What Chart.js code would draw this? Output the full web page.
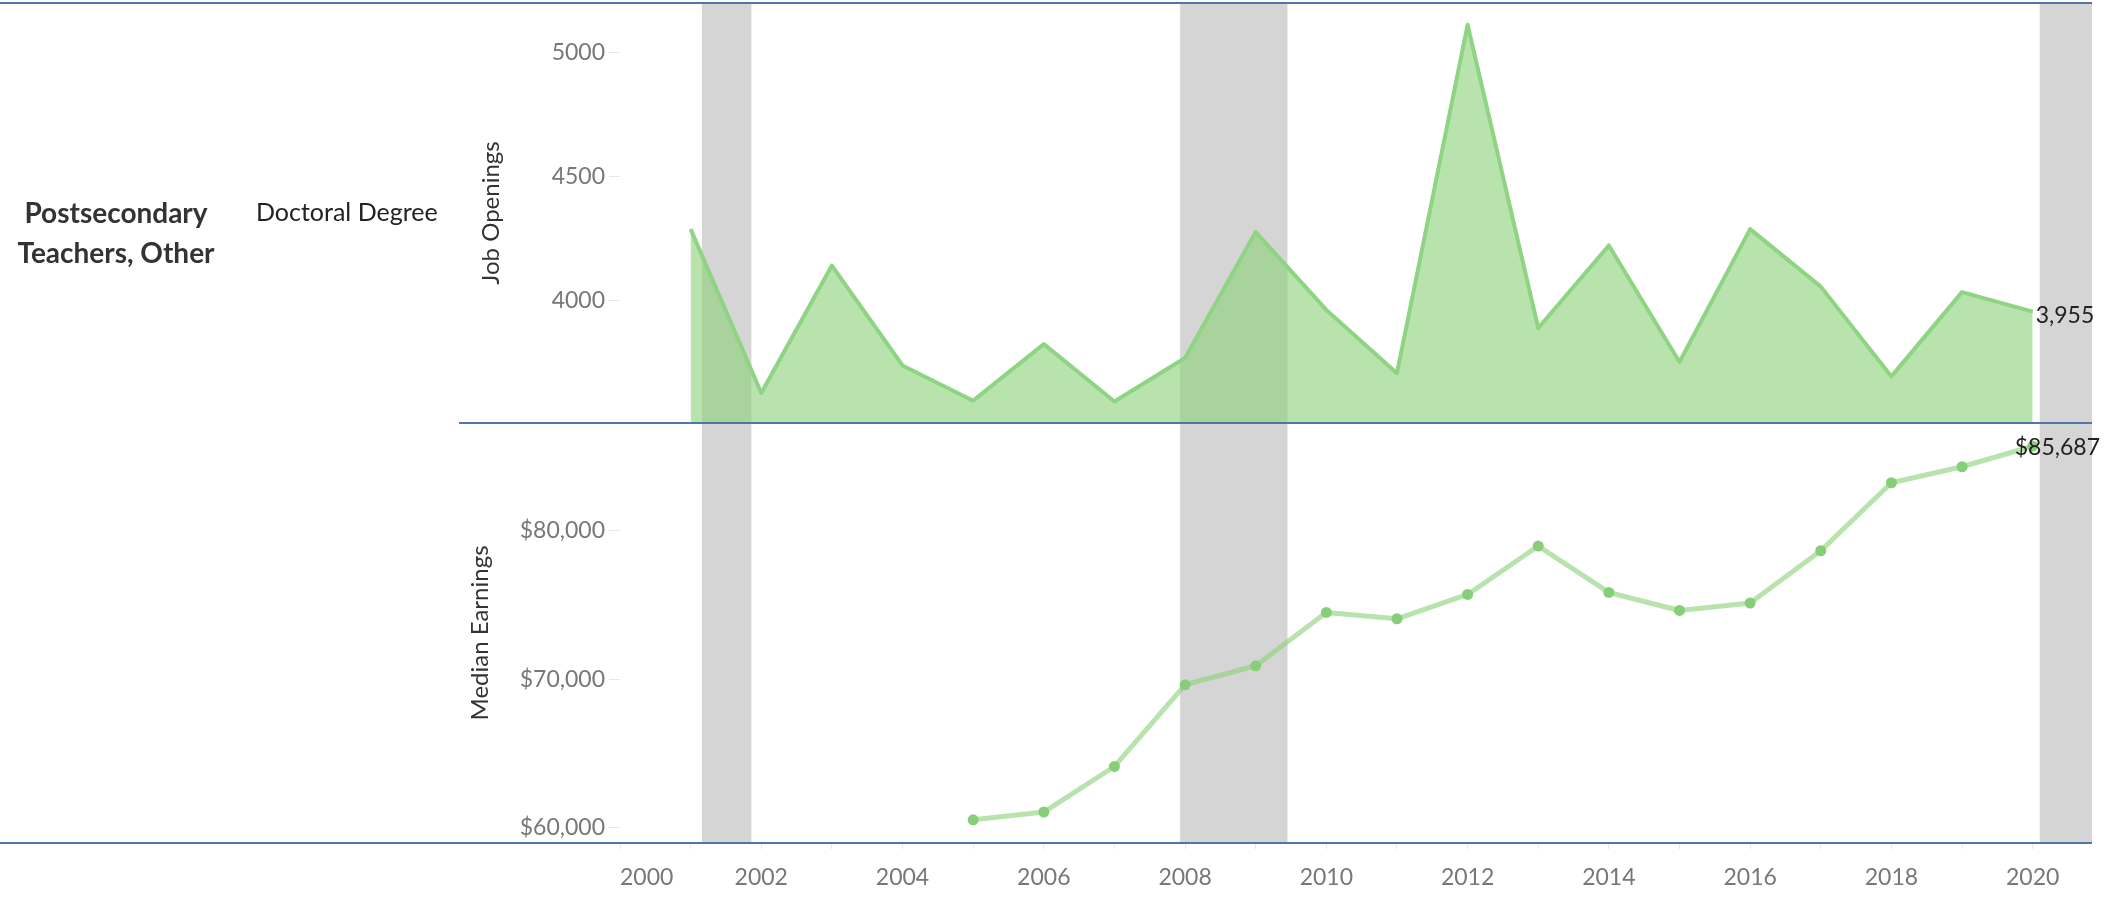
<!DOCTYPE html>
<html>
<head>
<meta charset="utf-8">
<script src="https://cdn.jsdelivr.net/npm/chart.js@4/dist/chart.umd.min.js"></script>
<style>
  body { margin: 0; background: #fff; width: 2119px; height: 897px; overflow: hidden; position: relative; font-family: Lato, sans-serif; }
  .box { position: absolute; left: 0; width: 2119px; }
  #topBox { top: 0; height: 423px; }
  #botBox { top: 423px; height: 474px; }
  .rule { position: absolute; height: 2px; background: #5176a6; }
  .occ { position: absolute; left: 0; top: 192px; width: 232px; text-align: center; font: bold 28px/40px Lato, sans-serif; color: #333; }
  .deg { position: absolute; left: 256px; top: 196px; font: 25px/30px Lato, sans-serif; color: #222; }
</style>
</head>
<body>
<div class="box" id="topBox"><canvas id="jobsChart"></canvas></div>
<div class="box" id="botBox"><canvas id="earnChart"></canvas></div>
<div class="rule" style="top:2px;left:0;width:2092px"></div>
<div class="rule" style="top:422px;left:459px;width:1633px"></div>
<div class="rule" style="top:842px;left:0;width:2092px"></div>
<div class="occ">Postsecondary<br>Teachers, Other</div>
<div class="deg">Doctoral Degree</div>
<script>
// data
const jobYears = [2001, 2002, 2003, 2004, 2005, 2006, 2007, 2008, 2009, 2010, 2011, 2012, 2013, 2014, 2015, 2016, 2017, 2018, 2019, 2020];
const jobOpenings = [4288, 3627, 4141, 3738, 3596, 3824, 3593, 3768, 4276, 3962, 3707, 5112, 3889, 4222, 3752, 4288, 4056, 3694, 4034, 3955];
const earnYears = [2005, 2006, 2007, 2008, 2009, 2010, 2011, 2012, 2013, 2014, 2015, 2016, 2017, 2018, 2019, 2020];
const medianEarnings = [60552, 61070, 64139, 69637, 70915, 74502, 74078, 75713, 78970, 75848, 74637, 75135, 78654, 83230, 84307, 85687];
const recessionStart = [2001.16, 2007.93, 2020.1];
const recessionEnd = [2001.86, 2009.45, 2020.84];
const jobTicks = [4000, 4500, 5000];
const earnTicks = [60000, 70000, 80000];
const xMin = 2000, xMax = 2020.84;
const xTicks = [2000, 2001, 2002, 2003, 2004, 2005, 2006, 2007, 2008, 2009, 2010, 2011, 2012, 2013, 2014, 2015, 2016, 2017, 2018, 2019, 2020, xMax];

const green = 'rgba(140,210,123,0.62)';
const tickFont = { family: 'Lato', size: 23 };
const titleFont = { family: 'Lato', size: 24 };

const bands = {
  id: 'bands',
  beforeDatasetsDraw(chart) {
    const { ctx, chartArea: a, scales: { x } } = chart;
    ctx.save();
    ctx.fillStyle = '#d5d5d5';
    recessionStart.forEach((s, i) => {
      const x0 = x.getPixelForValue(s), x1 = x.getPixelForValue(recessionEnd[i]);
      ctx.fillRect(x0, a.top, x1 - x0, a.bottom - a.top);
    });
    ctx.restore();
  }
};

const endLabel = {
  id: 'endLabel',
  afterDatasetsDraw(chart, args, opts) {
    const meta = chart.getDatasetMeta(0);
    const pt = meta.data[meta.data.length - 1];
    const ctx = chart.ctx;
    ctx.save();
    ctx.font = '23px Lato';
    ctx.fillStyle = '#222';
    ctx.textBaseline = 'middle';
    if (opts.align === 'right') {
      ctx.textAlign = 'right';
      ctx.fillText(opts.text, chart.chartArea.right + 8, pt.y + 1);
    } else {
      ctx.textAlign = 'left';
      ctx.fillText(opts.text, pt.x + 3, pt.y + 4);
    }
    ctx.restore();
  }
};

function yAxis(min, max, ticks, title, fmt, titlePad) {
  return {
    min: min, max: max,
    afterBuildTicks: s => { s.ticks = ticks.map(v => ({ value: v })); },
    afterFit: s => { s.width = 154; s.paddingTop = 0; s.paddingBottom = 0; },
    border: { display: false },
    grid: { drawOnChartArea: false, tickLength: 11, color: '#e6e6e6' },
    ticks: { padding: 4, color: '#777', font: tickFont, callback: fmt },
    title: { display: true, text: title, color: '#333', font: titleFont, padding: { top: titlePad, bottom: 0 } }
  };
}

function xAxis(show) {
  return {
    type: 'linear', min: xMin, max: xMax, display: show,
    afterBuildTicks: s => { s.ticks = xTicks.map(v => ({ value: v })); },
    afterFit: s => { s.height = show ? 54 : 0; s.paddingLeft = 0; s.paddingRight = 0; },
    border: { display: false },
    grid: { drawOnChartArea: false, tickLength: 6, color: c => (c.tick && c.tick.value === xMax ? 'rgba(0,0,0,0)' : '#e6e6e6') },
    ticks: {
      autoSkip: false, maxRotation: 0, align: 'inner', padding: 15, color: '#777', font: tickFont,
      callback: v => (Number.isInteger(v) && v % 2 === 0 ? String(v) : '')
    }
  };
}

const common = {
  responsive: true, maintainAspectRatio: false, animation: false,
  plugins: { legend: { display: false }, tooltip: { enabled: false } }
};

new Chart(document.getElementById('jobsChart'), {
  type: 'line',
  data: {
    datasets: [{
      data: jobYears.map((y, i) => ({ x: y, y: jobOpenings[i] })),
      borderColor: '#8fd483', borderWidth: 4, borderJoinStyle: 'round', backgroundColor: green,
      fill: 'start', pointRadius: 0, tension: 0
    }]
  },
  options: {
    ...common,
    layout: { autoPadding: false, padding: { left: 466, right: 27, top: 3, bottom: 0 } },
    plugins: { ...common.plugins, endLabel: { text: '3,955', align: 'left' } },
    scales: {
      x: xAxis(false),
      y: yAxis(3506, 5200, jobTicks, 'Job Openings', v => String(v), 11)
    }
  },
  plugins: [bands, endLabel]
});

new Chart(document.getElementById('earnChart'), {
  type: 'line',
  data: {
    datasets: [{
      data: earnYears.map((y, i) => ({ x: y, y: medianEarnings[i] })),
      borderColor: green, borderWidth: 5, borderJoinStyle: 'round', fill: false,
      pointRadius: 5.5, pointBackgroundColor: '#86cf78', pointBorderWidth: 0, tension: 0
    }]
  },
  options: {
    ...common,
    layout: { autoPadding: false, padding: { left: 466, right: 27, top: 0, bottom: 0 } },
    plugins: { ...common.plugins, endLabel: { text: '$85,687', align: 'right' } },
    scales: {
      x: xAxis(true),
      y: yAxis(58990, 87250, earnTicks, 'Median Earnings', v => '$' + v.toLocaleString('en-US'), 0)
    }
  },
  plugins: [bands, endLabel]
});
</script>
</body>
</html>
